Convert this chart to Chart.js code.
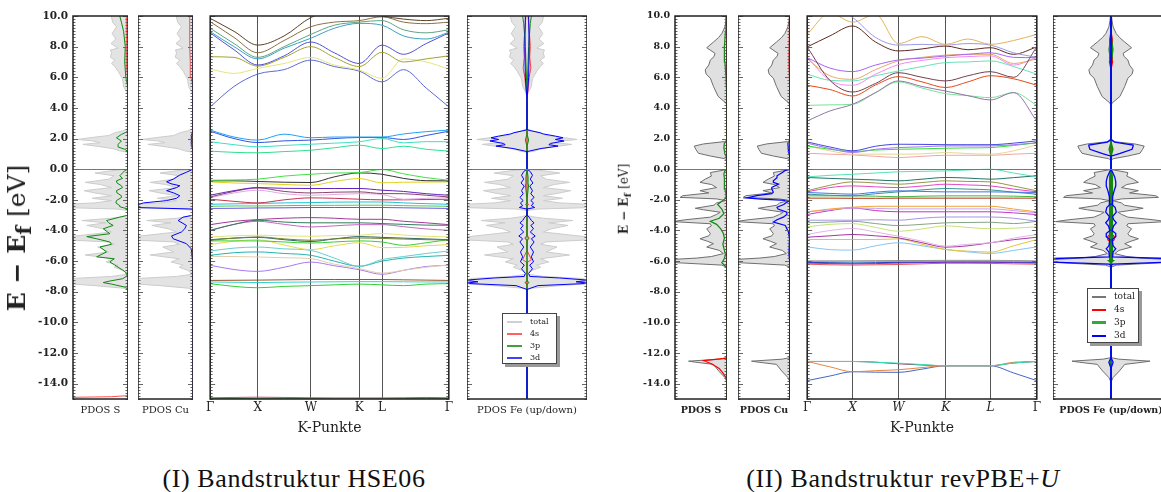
<!DOCTYPE html>
<html>
<head>
<meta charset="utf-8">
<script src="https://cdn.jsdelivr.net/npm/chart.js@4.4.1/dist/chart.umd.min.js"></script>
<style>
  body { margin: 0; width: 1161px; height: 492px; overflow: hidden; background: #fff; position: relative; font-family: "DejaVu Serif", serif; color: #222; }
  canvas { position: absolute; top: 0; }
  .ytitle { position: absolute; white-space: nowrap; transform: translate(-50%, -50%) rotate(-90deg); font-weight: bold; }
  .ytitle span { font-weight: normal; }
  .caption { position: absolute; white-space: nowrap; transform: translate(-50%, -50%); font-family: "Liberation Serif", serif; font-size: 26px; letter-spacing: 0.6px; color: #111; }
  .legend { position: absolute; background: #fff; border: 1px solid #444; box-shadow: 3px 3px 0 #999; font-size: 8px; }
  .legend div { position: relative; height: 12px; line-height: 12px; }
  .legend i { position: absolute; display: block; }
</style>
</head>
<body>
<canvas id="hseS" width="128" height="440" style="left:0px"></canvas>
<canvas id="hseCu" width="55" height="440" style="left:138px"></canvas>
<canvas id="hseBand" width="251" height="440" style="left:204px"></canvas>
<canvas id="hseFe" width="120" height="440" style="left:467px"></canvas>
<canvas id="pbeS" width="127" height="440" style="left:600px"></canvas>
<canvas id="pbeCu" width="52" height="440" style="left:738px"></canvas>
<canvas id="pbeBand" width="242" height="440" style="left:801px"></canvas>
<canvas id="pbeFe" width="116" height="440" style="left:1053px"></canvas>

<div class="ytitle" style="left:19px; top:238px; font-size:25px;">E − E<sub>f</sub> <span>[eV]</span></div>
<div class="ytitle" style="left:625px; top:199px; font-size:12px;">E − E<sub>f</sub> <span>[eV]</span></div>

<div class="legend" style="left:502px; top:313px; width:53px; height:49px;">
  <div style="margin-top:2px"><i style="left:4px; top:5px; width:15px; height:1.5px; background:#d0d0d0"></i><span style="margin-left:27px">total</span></div>
  <div><i style="left:4px; top:5px; width:15px; height:1.5px; background:#ff6060"></i><span style="margin-left:27px">4s</span></div>
  <div><i style="left:4px; top:5px; width:15px; height:1.5px; background:#40a040"></i><span style="margin-left:27px">3p</span></div>
  <div><i style="left:4px; top:5px; width:15px; height:1.5px; background:#4040ff"></i><span style="margin-left:27px">3d</span></div>
</div>
<div class="legend" style="left:1087px; top:288px; width:50px; height:53px; font-size:9px;">
  <div style="margin-top:1px; height:13px"><i style="left:4px; top:6px; width:14px; height:1.5px; background:#777"></i><span style="margin-left:26px">total</span></div>
  <div style="height:13px"><i style="left:4px; top:6px; width:14px; height:1.5px; background:#f00"></i><span style="margin-left:26px">4s</span></div>
  <div style="height:13px"><i style="left:4px; top:5px; width:14px; height:3px; background:#3a3"></i><span style="margin-left:26px">3p</span></div>
  <div style="height:13px"><i style="left:4px; top:6px; width:14px; height:1.5px; background:#00f"></i><span style="margin-left:26px">3d</span></div>
</div>

<div class="caption" style="left:294px; top:479px;">(I)  Bandstruktur HSE06</div>
<div class="caption" style="left:903px; top:479px;">(II)  Bandstruktur revPBE+<i>U</i></div>

<script>
// energy axis ticks and k-path
const yTicks = [-14, -12, -10, -8, -6, -4, -2, 0, 2, 4, 6, 8, 10];
const kLabels = ["Γ", "X", "W", "K", "L", "Γ"];
const kTicksHSE = [0, 0.199, 0.422, 0.625, 0.72, 1];
const kGridHSE = [0, 0.1, 0.199, 0.31, 0.422, 0.52, 0.625, 0.72, 0.81, 0.905, 1];
const kTicksPBE = [0, 0.198, 0.397, 0.603, 0.798, 1];
const kGridPBE = [0, 0.099, 0.198, 0.298, 0.397, 0.5, 0.603, 0.7, 0.798, 0.899, 1];

// HSE06 bands, energies at kGridHSE
const bandsHSE = [
  [9.85, 9.0, 8.1, 8.7, 9.9, 10.3, 10.3, 10.0, 9.8, 9.7, 9.85],
  [9.63, 8.6, 7.6, 8.4, 9.3, 9.6, 9.7, 9.95, 9.6, 9.5, 9.6],
  [9.2, 8.2, 7.3, 8.0, 8.8, 9.4, 9.6, 9.7, 9.1, 8.9, 9.1],
  [8.98, 8.0, 7.2, 7.9, 8.55, 9.2, 9.52, 9.4, 8.7, 8.5, 8.93],
  [8.9, 7.8, 6.8, 7.4, 8.3, 7.6, 6.9, 8.1, 7.5, 8.2, 8.9],
  [7.34, 7.3, 6.73, 7.3, 8.0, 7.3, 6.7, 7.63, 7.0, 7.2, 7.4],
  [6.54, 6.25, 6.58, 6.9, 7.3, 6.8, 6.47, 5.93, 7.2, 7.0, 6.54],
  [4.07, 5.4, 6.21, 6.5, 7.12, 6.7, 6.4, 5.7, 6.5, 5.3, 4.07],
  [2.55, 2.1, 1.9, 2.29, 2.05, 2.1, 2.1, 2.1, 2.3, 2.45, 2.55],
  [2.48, 2.0, 1.74, 1.85, 1.9, 2.0, 2.07, 2.07, 1.94, 2.2, 2.48],
  [1.79, 1.6, 1.46, 1.55, 1.63, 1.7, 1.79, 2.0, 1.72, 1.8, 1.79],
  [1.18, 1.1, 1.07, 1.15, 1.24, 1.4, 1.57, 1.35, 1.5, 1.3, 1.18],
  [-0.72, -0.7, -0.65, -0.45, -0.33, -0.25, -0.22, -0.02, -0.3, -0.55, -0.72],
  [-0.76, -0.76, -0.8, -0.85, -0.87, -0.5, -0.24, -0.33, -0.6, -0.75, -0.76],
  [-0.83, -0.9, -0.94, -1.0, -1.05, -0.8, -0.61, -0.89, -0.85, -0.84, -0.83],
  [-1.7, -1.4, -1.2, -1.25, -1.26, -1.26, -1.26, -1.37, -1.45, -1.6, -1.7],
  [-1.81, -1.45, -1.22, -1.45, -1.55, -1.5, -1.48, -1.59, -1.6, -1.7, -1.81],
  [-1.86, -1.55, -1.37, -1.6, -1.7, -1.65, -1.6, -1.65, -1.96, -1.9, -1.86],
  [-1.96, -2.1, -2.2, -2.0, -1.87, -1.9, -1.96, -2.0, -2.0, -1.98, -1.96],
  [-2.29, -2.26, -2.24, -2.2, -2.18, -2.15, -2.14, -2.14, -2.2, -2.25, -2.29],
  [-2.42, -2.4, -2.4, -2.38, -2.36, -2.36, -2.35, -2.35, -2.38, -2.4, -2.42],
  [-2.56, -2.55, -2.53, -2.52, -2.5, -2.5, -2.5, -2.5, -2.52, -2.54, -2.56],
  [-3.62, -3.4, -3.29, -3.2, -3.16, -3.2, -3.27, -3.27, -3.4, -3.5, -3.62],
  [-3.99, -3.6, -3.33, -3.45, -3.5, -3.5, -3.5, -3.55, -3.6, -3.65, -3.66],
  [-4.0, -3.6, -3.4, -3.6, -3.77, -3.7, -3.62, -3.62, -3.75, -3.9, -3.99],
  [-4.42, -4.35, -4.31, -4.35, -4.38, -4.33, -4.31, -4.2, -4.3, -4.38, -4.42],
  [-4.64, -4.5, -4.42, -4.55, -4.64, -4.55, -4.49, -4.52, -4.56, -4.6, -4.62],
  [-4.6, -4.5, -4.45, -4.6, -4.72, -4.55, -4.4, -4.45, -4.5, -4.55, -4.6],
  [-4.68, -4.68, -4.68, -4.75, -4.82, -4.75, -4.68, -4.75, -4.97, -4.8, -4.6],
  [-4.92, -4.7, -4.6, -4.95, -5.25, -5.0, -4.8, -5.12, -5.1, -5.0, -4.92],
  [-5.34, -5.15, -5.08, -5.2, -5.3, -5.8, -6.34, -5.9, -5.7, -5.5, -5.34],
  [-5.62, -5.45, -5.4, -5.5, -5.62, -6.0, -6.34, -6.0, -5.8, -5.7, -5.62],
  [-5.69, -5.7, -5.73, -5.78, -5.84, -6.2, -6.49, -6.78, -6.6, -6.4, -6.25],
  [-6.27, -6.55, -6.67, -6.4, -6.06, -6.3, -6.56, -6.86, -6.6, -6.35, -6.27],
  [-7.26, -7.25, -7.24, -7.22, -7.2, -7.2, -7.2, -7.2, -7.22, -7.24, -7.26],
  [-7.36, -7.38, -7.4, -7.38, -7.36, -7.35, -7.34, -7.34, -7.35, -7.36, -7.36],
  [-7.47, -7.65, -7.74, -7.65, -7.6, -7.55, -7.5, -7.55, -7.6, -7.5, -7.47],
  [-14.92, -14.9, -14.88, -14.9, -14.92, -14.93, -14.93, -14.93, -14.92, -14.9, -14.92],
  [-14.97, -14.97, -14.96, -14.96, -14.97, -14.98, -14.98, -14.98, -14.97, -14.96, -14.97]
];
const colorsHSE = [
  "#5c4326", "#8b7043", "#5fa384", "#3aa2c4", "#5052d4", "#a3a332", "#e6e67a", "#5b6bd9",
  "#1fa3f2", "#2f55e0", "#3fe0c2", "#2fe08f", "#45e045", "#333333", "#e3d21f", "#6422c2",
  "#86456a", "#e2a6e6", "#c23452", "#22c2d4", "#55c655", "#6a55e3", "#a8389a", "#2e7d5a",
  "#c466c4", "#e3e37a", "#758535", "#2f6363", "#33d133", "#e8d94a", "#6ccccc", "#25b3b3",
  "#e3cdb0", "#a878f2", "#93582a", "#35d4d4", "#30d030", "#c0508a", "#3a8a3a"
];

// revPBE+U bands, energies at kGridPBE
const bandsPBE = [
  [8.8, 10.2, 9.6, 10.1, 8.2, 8.65, 8.15, 8.5, 8.15, 8.4, 8.8],
  [10.5, 10.6, 9.9, 8.6, 8.1, 8.15, 8.1, 8.2, 8.1, 7.6, 7.3],
  [7.98, 8.7, 9.35, 8.3, 7.72, 7.85, 8.04, 7.8, 7.93, 7.5, 7.98],
  [7.98, 5.8, 5.04, 5.6, 6.3, 6.0, 5.76, 6.1, 6.37, 6.0, 7.98],
  [5.48, 5.2, 4.78, 5.5, 6.04, 5.7, 5.33, 5.7, 6.1, 5.9, 5.48],
  [7.28, 6.6, 6.37, 6.8, 7.13, 7.25, 7.39, 7.5, 7.6, 7.3, 7.28],
  [7.2, 6.1, 5.87, 6.5, 7.07, 7.3, 7.45, 7.5, 7.5, 6.9, 7.2],
  [7.3, 5.8, 5.48, 6.2, 6.83, 7.1, 7.28, 7.35, 7.4, 6.8, 7.3],
  [6.2, 5.8, 5.76, 6.1, 6.41, 6.7, 6.96, 7.0, 7.07, 6.7, 6.2],
  [3.15, 3.8, 4.24, 5.0, 5.76, 5.4, 5.1, 4.8, 4.52, 5.0, 3.15],
  [4.17, 4.2, 4.24, 5.0, 5.7, 5.3, 4.93, 4.8, 4.67, 5.0, 4.17],
  [1.78, 1.45, 1.2, 1.5, 1.63, 1.62, 1.6, 1.6, 1.6, 1.7, 1.85],
  [1.7, 1.35, 1.09, 1.3, 1.41, 1.46, 1.52, 1.52, 1.52, 1.6, 1.72],
  [1.52, 1.3, 1.15, 1.25, 1.3, 1.33, 1.37, 1.39, 1.41, 1.55, 1.72],
  [1.52, 1.2, 0.98, 0.98, 0.98, 1.0, 1.09, 1.02, 0.98, 1.2, 1.6],
  [1.04, 0.98, 0.93, 0.84, 0.76, 0.84, 0.91, 0.91, 0.91, 0.98, 1.04],
  [-0.5, -0.4, -0.33, -0.25, -0.17, -0.14, -0.11, -0.05, 0.0, -0.25, -0.5],
  [-0.54, -0.6, -0.65, -0.7, -0.76, -0.65, -0.54, -0.58, -0.65, -0.55, -0.43],
  [-1.41, -1.05, -0.83, -0.9, -0.98, -0.87, -0.76, -0.8, -0.83, -1.1, -1.41],
  [-1.48, -1.2, -1.09, -1.15, -1.2, -1.1, -0.98, -1.03, -1.09, -1.3, -1.48],
  [-1.52, -1.58, -1.63, -1.5, -1.41, -1.45, -1.48, -1.48, -1.48, -1.5, -1.52],
  [-1.63, -1.7, -1.74, -1.6, -1.48, -1.35, -1.26, -1.3, -1.35, -1.5, -1.63],
  [-1.74, -1.74, -1.74, -1.76, -1.8, -1.76, -1.74, -1.74, -1.74, -1.76, -1.8],
  [-1.89, -1.89, -1.9, -1.9, -1.89, -1.89, -1.89, -1.89, -1.89, -1.89, -1.89],
  [-2.78, -2.6, -2.48, -2.42, -2.42, -2.42, -2.42, -2.42, -2.42, -2.6, -2.78],
  [-2.78, -2.65, -2.53, -2.56, -2.59, -2.59, -2.59, -2.59, -2.59, -2.7, -2.85],
  [-2.96, -2.7, -2.53, -2.7, -2.78, -2.78, -2.78, -2.78, -2.78, -2.85, -2.96],
  [-3.33, -3.33, -3.33, -3.3, -3.33, -3.2, -3.12, -3.12, -3.12, -3.2, -3.4],
  [-3.5, -3.45, -3.4, -3.55, -3.68, -3.6, -3.5, -3.48, -3.46, -3.55, -3.4],
  [-3.76, -3.6, -3.55, -3.8, -4.05, -3.9, -3.7, -3.8, -3.89, -3.85, -3.76],
  [-4.26, -4.0, -3.87, -4.1, -4.37, -4.7, -5.02, -4.9, -4.8, -4.5, -4.26],
  [-4.44, -4.35, -4.26, -4.35, -4.48, -4.8, -5.09, -5.0, -4.8, -4.6, -4.44],
  [-4.59, -4.59, -4.59, -4.59, -4.55, -4.9, -5.24, -5.35, -5.41, -5.0, -4.59],
  [-5.07, -5.25, -5.28, -5.0, -4.8, -5.0, -5.24, -5.4, -5.5, -5.3, -5.07],
  [-5.98, -5.98, -5.98, -5.97, -5.96, -5.96, -5.95, -5.95, -5.95, -5.96, -5.98],
  [-6.03, -6.04, -6.05, -6.04, -6.03, -6.02, -6.0, -6.0, -6.0, -6.01, -6.03],
  [-6.08, -6.1, -6.12, -6.1, -6.08, -6.06, -6.04, -6.04, -6.04, -6.06, -6.08],
  [-6.13, -6.16, -6.18, -6.16, -6.13, -6.1, -6.08, -6.08, -6.08, -6.1, -6.13],
  [-6.2, -6.24, -6.26, -6.24, -6.22, -6.18, -6.14, -6.14, -6.15, -6.18, -6.2],
  [-12.55, -12.55, -12.55, -12.6, -12.66, -12.75, -12.83, -12.83, -12.83, -12.65, -12.55],
  [-12.55, -12.9, -13.22, -13.15, -13.09, -12.95, -12.83, -12.83, -12.83, -12.6, -12.55],
  [-12.55, -12.55, -12.55, -12.6, -12.7, -12.78, -12.83, -12.83, -12.83, -12.65, -12.55],
  [-13.8, -13.5, -13.22, -13.25, -13.26, -13.05, -12.83, -12.83, -12.83, -13.3, -13.8]
];
const colorsPBE = [
  "#e3b35a", "#9a9ae6", "#5e2a22", "#744052", "#e24a18", "#a466f2", "#e5a868", "#f28af2",
  "#66e3b5", "#9575a6", "#77e396", "#4545e3", "#a575f2", "#33e033", "#e6d595", "#f2a5a5",
  "#55e3b5", "#237566", "#969645", "#e545c5", "#4575e3", "#359595", "#45b545", "#b53515",
  "#f2a535", "#c5a5f2", "#c535c5", "#a595e3", "#85a585", "#c5e375", "#e3b5e3", "#a535a5",
  "#e3c535", "#85c5f2", "#959595", "#35c5c5", "#2525c5", "#9535c5", "#f25555", "#35e3b5",
  "#e58545", "#853565", "#4565c5"
];

// PDOS, [energy, DOS] pairs (HSE06)
const hseTotal = [[-15, 0], [-7.9, 0], [-7.78, 0.5], [-7.6, 6], [-7.45, 12], [-7.3, 12], [-7.13, 10], [-7.0, 3], [-6.85, 0], [-6.6, 1.0], [-6.4, 2.5], [-6.26, 1.8], [-6.05, 4.0], [-5.85, 2.5], [-5.6, 7.8], [-5.4, 3.5], [-5.08, 5.5], [-4.9, 2.5], [-4.75, 3.5], [-4.6, 12], [-4.45, 12], [-4.3, 8], [-4.1, 3.0], [-3.89, 4.5], [-3.67, 7.5], [-3.5, 4.0], [-3.35, 8.4], [-3.2, 3.0], [-3.1, 1.0], [-3.0, 0], [-2.7, 0], [-2.6, 2], [-2.5, 12], [-2.3, 12], [-2.2, 6], [-2.05, 3.0], [-1.9, 6.5], [-1.73, 3.0], [-1.55, 6], [-1.4, 8.0], [-1.2, 3.0], [-1.0, 5], [-0.86, 7.8], [-0.65, 3.5], [-0.43, 2.5], [-0.25, 6], [-0.1, 3.0], [0, 0], [1.1, 0], [1.2, 1.5], [1.34, 2.7], [1.5, 5.7], [1.62, 8.2], [1.73, 5.1], [1.84, 6.3], [1.94, 9.2], [2.05, 7.0], [2.2, 3.5], [2.38, 2.4], [2.5, 1.0], [2.65, 0], [4.8, 0], [5.0, 0.2], [5.4, 0.8], [5.9, 1.0], [6.4, 1.8], [6.7, 2.4], [6.9, 3.0], [7.13, 2.4], [7.3, 3.2], [7.6, 3.0], [7.78, 3.2], [7.9, 1.8], [8.2, 3.1], [8.5, 2.2], [8.85, 2.9], [9.3, 2.1], [9.6, 2.8], [9.93, 3.0], [10, 3.0]];
const hseS3p = [[-15, 0], [-7.85, 0], [-7.7, 0.5], [-7.5, 3.0], [-7.4, 4.5], [-7.3, 3.3], [-7.15, 1], [-7.0, 0.3], [-6.8, 0.2], [-6.6, 0.9], [-6.26, 2.4], [-6.05, 3.3], [-5.85, 2.5], [-5.72, 5.7], [-5.4, 3.9], [-5.08, 5.1], [-4.9, 3.0], [-4.75, 3.3], [-4.54, 5.7], [-4.4, 7.5], [-4.21, 3.3], [-3.89, 4.5], [-3.67, 2.7], [-3.5, 3.5], [-3.35, 3.9], [-3.13, 1.5], [-3.0, 0], [-2.6, 0], [-2.45, 1.5], [-2.38, 1.5], [-2.2, 2.2], [-2.05, 2.1], [-1.85, 1.2], [-1.73, 1.2], [-1.55, 2.0], [-1.4, 2.1], [-1.2, 1.0], [-1.08, 1.2], [-0.9, 2.0], [-0.76, 2.1], [-0.6, 1.0], [-0.43, 1.5], [-0.25, 1.0], [-0.1, 0.6], [0, 0], [1.15, 0], [1.3, 0.6], [1.45, 1.8], [1.62, 1.8], [1.84, 1.2], [2.05, 2.1], [2.27, 1.2], [2.42, 0.3], [2.55, 0], [5.3, 0], [6.0, 0.4], [7.0, 0.6], [8.0, 0.5], [9.0, 0.8], [9.6, 1.2], [10, 1.5]];
const hseS3s = [[-15, 12], [-14.9, 12], [-14.85, 3], [-14.78, 0], [5.5, 0], [6.5, 0.2], [8, 0.3], [9, 0.3], [10, 0.3]];
const hseCu3d = [[-15, 0], [-6.3, 0], [-5.2, 0.3], [-4.86, 1.2], [-4.54, 3.6], [-4.36, 3.9], [-4.1, 2.1], [-3.89, 1.5], [-3.67, 1.2], [-3.5, 2.0], [-3.35, 2.7], [-3.13, 1.8], [-3.0, 0], [-2.6, 0], [-2.5, 10.5], [-2.38, 10.5], [-2.2, 9], [-2.05, 4.8], [-1.9, 3.0], [-1.73, 2.4], [-1.55, 3.5], [-1.4, 4.8], [-1.2, 3.0], [-1.08, 2.4], [-0.95, 4.0], [-0.82, 4.8], [-0.65, 3.6], [-0.4, 2.5], [-0.2, 1.2], [0, 0], [1.2, 0], [1.6, 0.3], [2.2, 0.3], [2.5, 0], [10, 0]];
const hseCu4s = [[-15, 0], [-6, 0], [-5.5, 0.2], [-5, 0], [5.5, 0], [6, 0.4], [7, 0.5], [8, 0.6], [9, 0.6], [10, 0.6]];
const hseFe3d = [[-15, 0], [-7.85, 0], [-7.6, 2.0], [-7.45, 11.5], [-7.35, 9], [-7.25, 11.5], [-7.1, 6], [-7.0, 0.5], [-6.8, 0.3], [-6.5, 1.0], [-6.26, 0.5], [-6.05, 1.2], [-5.72, 0.8], [-5.4, 1.2], [-5.08, 0.6], [-4.75, 1.3], [-4.54, 0.8], [-4.36, 1.5], [-4.1, 0.6], [-3.89, 1.2], [-3.67, 0.7], [-3.5, 1.3], [-3.35, 0.8], [-3.13, 0.4], [-3.0, 0], [-2.6, 0], [-2.5, 1.4], [-2.38, 0.8], [-2.2, 1.2], [-2.05, 0.7], [-1.84, 1.3], [-1.6, 0.7], [-1.4, 1.0], [-1.1, 0.5], [-0.9, 1.1], [-0.65, 0.6], [-0.4, 1.0], [-0.15, 0.6], [0, 0], [1.15, 0], [1.34, 2.4], [1.51, 5.7], [1.6, 4.0], [1.68, 4.3], [1.84, 6.8], [1.94, 5.2], [2.05, 6.6], [2.16, 5.2], [2.3, 3.0], [2.38, 2.4], [2.55, 0.2], [2.65, 0], [4.5, 0], [6, 0.3], [8, 0.4], [10, 0.3]];
const hseFe4s = [[-15, 0], [-6.1, 0], [-5.9, 0.8], [-5.6, 0.4], [-5.3, 0], [-4.7, 0], [-4.5, 0.4], [-4.3, 0], [-2.4, 0], [-2.3, 0.3], [-2.2, 0], [4.5, 0], [6, 0.4], [6.6, 0.7], [7.3, 0.5], [8, 0.6], [8.6, 0.5], [10, 0.2]];
const hseFe3p = [[-15, 0], [-7.5, 0], [-7.4, 0.4], [-7.3, 0], [-4.6, 0], [-4.5, 0.3], [-4.4, 0], [-2, 0], [-1, 0.3], [-0.5, 0.2], [0, 0], [1.5, 0], [1.9, 0.3], [2.3, 0], [5, 0], [8, 0.3], [9.5, 0.6], [10, 0.8]];

// PDOS, [energy, DOS] pairs (revPBE+U)
const pbeTotal = [[-15, 0], [-13.9, 0], [-13.6, 0.4], [-13.17, 1.6], [-12.74, 2.6], [-12.6, 6.0], [-12.53, 7.4], [-12.4, 1.5], [-12.3, 0], [-6.4, 0], [-6.26, 1.0], [-6.08, 11], [-5.9, 11], [-5.8, 5.8], [-5.7, 3.0], [-5.51, 0.7], [-5.3, 1.5], [-5.08, 3.9], [-4.86, 2.6], [-4.7, 3.8], [-4.54, 5.2], [-4.35, 3.5], [-4.21, 3.2], [-3.89, 3.9], [-3.7, 3.0], [-3.56, 3.2], [-3.42, 10.5], [-3.3, 8], [-3.13, 3.2], [-2.95, 2.0], [-2.81, 1.3], [-2.65, 4.5], [-2.55, 6.1], [-2.35, 2.5], [-2.2, 2.0], [-2.05, 0.3], [-1.94, 2], [-1.84, 9.0], [-1.73, 8.5], [-1.55, 3.5], [-1.4, 5.2], [-1.2, 2.0], [-1.0, 3.0], [-0.86, 5.2], [-0.65, 4.2], [-0.45, 3.0], [-0.22, 3.2], [-0.05, 0.5], [0, 0], [0.6, 0], [0.69, 0.5], [0.86, 3.2], [1.04, 5.5], [1.3, 6.0], [1.51, 6.3], [1.65, 4.5], [1.8, 0.5], [1.9, 0], [4.1, 0], [4.32, 0.2], [4.75, 1.7], [5.4, 2.6], [5.94, 3.2], [6.2, 4.0], [6.48, 4.2], [6.8, 3.5], [7.13, 3.2], [7.35, 2.5], [7.56, 2.3], [7.93, 3.9], [8.3, 2.6], [8.6, 1.6], [8.85, 1.0], [9.29, 0.4], [9.7, 0.2], [10, 0.1]];
const pbeS3p = [[-15, 0], [-6.45, 0], [-6.3, 0.4], [-6.1, 1.0], [-5.9, 0.6], [-5.6, 0.3], [-5.3, 0.5], [-4.9, 0.8], [-4.5, 0.5], [-4.2, 0.7], [-3.9, 1.2], [-3.6, 2.0], [-3.4, 3.2], [-3.2, 1.5], [-2.9, 0.6], [-2.6, 1.0], [-2.3, 1.8], [-2.1, 1.0], [-1.9, 0.3], [-1.6, 0.2], [-1.3, 0.4], [-1.0, 0.5], [-0.6, 0.5], [-0.3, 0.6], [-0.1, 0.4], [0, 0], [0.7, 0], [1.0, 0.4], [1.4, 0.6], [1.7, 0.5], [1.85, 0], [4.3, 0], [6, 0.2], [7, 0.4], [8, 0.5], [9, 0.3], [10, 0.2]];
const pbeS3s = [[-15, 0], [-13.7, 0], [-13.3, 0.8], [-13.0, 1.5], [-12.7, 3.0], [-12.5, 4.5], [-12.33, 0], [10, 0]];
const pbeCu3d = [[-15, 0], [-6.3, 0], [-5.5, 0.2], [-4.54, 0.1], [-4.1, 0.3], [-3.67, 0.9], [-3.45, 3.2], [-3.3, 2.5], [-3.13, 1.3], [-2.95, 0.6], [-2.81, 0.6], [-2.6, 2.3], [-2.48, 2.5], [-2.3, 1.2], [-2.15, 0.6], [-2.05, 0], [-1.95, 5.5], [-1.88, 8.3], [-1.73, 6.4], [-1.6, 3.5], [-1.5, 3.2], [-1.3, 3.5], [-1.19, 3.5], [-0.97, 2.2], [-0.85, 3.2], [-0.76, 3.2], [-0.55, 2.5], [-0.43, 2.5], [-0.2, 1.4], [-0.1, 1.0], [0, 0], [0.7, 0], [1.2, 0.3], [1.7, 0.4], [1.85, 0], [10, 0]];
const pbeCu4s = [[-15, 0], [4.3, 0], [7, 0.2], [10, 0.1]];
const pbeFe3d = [[-15, 0], [-13.0, 0], [-12.6, 0.4], [-12.3, 0], [-6.3, 0], [-6.2, 0.3], [-6.06, 12], [-5.84, 12], [-5.73, 0.3], [-5.4, 0.4], [-5.2, 0.9], [-5.0, 0.4], [-4.6, 0.2], [-4.4, 0.9], [-4.2, 0.9], [-4.0, 0.2], [-3.7, 0.5], [-3.5, 1.0], [-3.3, 0.5], [-3.1, 0.3], [-2.8, 1.0], [-2.5, 0.8], [-2.3, 0.2], [-1.8, 0.3], [-1.4, 0.6], [-1.1, 0.9], [-0.8, 0.9], [-0.5, 0.7], [-0.2, 0.3], [0, 0], [0.85, 0], [1.02, 1.6], [1.3, 4.0], [1.52, 4.2], [1.58, 4.2], [1.77, 0.7], [1.95, 0], [10, 0]];
const pbeFe4s = [[-15, 0], [-4.8, 0], [-4.6, 0.6], [-4.4, 0.6], [-4.2, 0], [6.5, 0], [7, 0.3], [8, 0.2], [8.5, 0.3], [9, 0], [10, 0]];
const pbeFe3p = [[-15, 0], [-6.1, 0], [-6.0, 0.3], [-3, 0.2], [-0.5, 0.2], [0, 0], [0.9, 0], [1.3, 0.3], [1.7, 0], [7, 0], [7.8, 0.3], [8.6, 0], [10, 0]];

Chart.defaults.font.family = "DejaVu Serif";
Chart.defaults.color = "#222";
Chart.defaults.animation = false;

// frame, inward minor ticks and the Fermi level line
const framePlugin = {
  id: "frame",
  afterDatasetsDraw(chart) {
    const { ctx, chartArea: a, scales } = chart;
    const y = scales.y;
    ctx.save();
    ctx.strokeStyle = "#777";
    ctx.lineWidth = 1;
    const y0 = Math.round(y.getPixelForValue(0)) + 0.5;
    ctx.beginPath();
    ctx.moveTo(a.left, y0);
    ctx.lineTo(a.right, y0);
    ctx.stroke();
    ctx.strokeStyle = "#666";
    for (let i = 0; i <= 125; i++) {
      const py = Math.round(y.getPixelForValue(-15 + i * 0.2)) + 0.5;
      const len = i % 10 === 5 ? 5 : 2.5;
      ctx.beginPath();
      ctx.moveTo(a.left, py);
      ctx.lineTo(a.left + len, py);
      ctx.moveTo(a.right, py);
      ctx.lineTo(a.right - len, py);
      ctx.stroke();
    }
    ctx.strokeStyle = "#222";
    ctx.lineWidth = 1.5;
    ctx.strokeRect(a.left, a.top, a.right - a.left, a.bottom - a.top);
    ctx.restore();
  }
};

function yScale(showLabels, tickFont, yWidth) {
  return {
    min: -15,
    max: 10,
    display: showLabels,
    afterBuildTicks: (scale) => { scale.ticks = yTicks.map((v) => ({ value: v })); },
    afterFit: (scale) => { scale.width = yWidth; },
    ticks: { callback: (v) => v.toFixed(1), font: tickFont, color: "#222", padding: 5 },
    grid: { display: false, drawTicks: false },
    border: { display: false }
  };
}

function dosSet(pairs, color, width, sign, order, fillColor) {
  return {
    data: pairs.map((p) => ({ x: sign * p[1], y: p[0] })),
    borderColor: color,
    borderWidth: width,
    backgroundColor: fillColor || "transparent",
    fill: fillColor ? "origin" : false,
    pointRadius: 0,
    tension: 0,
    order
  };
}

function pdosChart(id, datasets, xMin, xMax, reverse, label, labelFont, showY, yFont, yWidth) {
  new Chart(document.getElementById(id), {
    type: "line",
    data: { datasets },
    options: {
      responsive: false,
      indexAxis: "y",
      layout: { padding: { top: 16, left: 0, right: 0, bottom: 0 } },
      plugins: { legend: { display: false }, tooltip: { enabled: false } },
      scales: {
        x: {
          type: "linear",
          min: xMin,
          max: xMax,
          reverse,
          afterFit: (scale) => { scale.height = 41; },
          ticks: { display: false },
          grid: { display: false, drawTicks: false },
          border: { display: false },
          title: { display: true, text: label, font: labelFont, color: "#222", padding: { top: 0, bottom: 24 } }
        },
        y: Object.assign({ type: "linear" }, yScale(showY, yFont, yWidth))
      }
    },
    plugins: [framePlugin]
  });
}

function bandChart(id, bands, colors, kGrid, kTicks, italic) {
  const datasets = bands.map((b, i) => ({
    data: b.map((e, j) => ({ x: kGrid[j], y: e })),
    borderColor: colors[i],
    borderWidth: 1,
    pointRadius: 0,
    cubicInterpolationMode: "monotone",
    fill: false
  }));
  new Chart(document.getElementById(id), {
    type: "line",
    data: { datasets },
    options: {
      responsive: false,
      layout: { padding: { top: 16, left: 0, right: 0, bottom: 0 } },
      plugins: { legend: { display: false }, tooltip: { enabled: false } },
      scales: {
        x: {
          type: "linear",
          min: 0,
          max: 1,
          afterBuildTicks: (scale) => { scale.ticks = kTicks.map((v) => ({ value: v })); },
          afterFit: (scale) => { scale.height = 41; },
          ticks: {
            padding: 2,
            color: "#222",
            callback: (v, i) => kLabels[i],
            font: (ctx) => ({ size: 12, style: italic && ctx.index > 0 && ctx.index < 5 ? "italic" : "normal" })
          },
          grid: { color: "#555", lineWidth: 1, drawTicks: false },
          border: { display: false },
          title: { display: true, text: "K-Punkte", font: { size: 14 }, color: "#222", padding: { top: 0, bottom: 3 } }
        },
        y: { type: "linear", min: -15, max: 10, display: false }
      }
    },
    plugins: [framePlugin]
  });
}

// HSE06 figure
const hseGrey = "#e3e3e3", hseGreyLine = "#cccccc";
const hseLabel = { size: 10 };
const hseTick = { size: 10.5, weight: "bold" };
pdosChart("hseS", [
  dosSet(hseTotal, hseGreyLine, 1, 1, 5, hseGrey),
  dosSet(hseS3s, "#ff5050", 1, 1, 3),
  dosSet(hseS3p, "#108a10", 1, 1, 2)
], 0, 10, true, "PDOS S", hseLabel, true, hseTick, 73);
pdosChart("hseCu", [
  dosSet(hseTotal, hseGreyLine, 1, 1, 5, hseGrey),
  dosSet(hseCu4s, "#ff5050", 1, 1, 3),
  dosSet(hseCu3d, "#0000ff", 1, 1, 1)
], 0, 10, true, "PDOS Cu", hseLabel, false, hseTick, 0);
bandChart("hseBand", bandsHSE, colorsHSE, kGridHSE, kTicksHSE, false);
pdosChart("hseFe", [
  dosSet(hseTotal, hseGreyLine, 1, -1, 6, hseGrey),
  dosSet(hseTotal, hseGreyLine, 1, 1, 5, hseGrey),
  dosSet(hseFe4s, "#ff4040", 1, -1, 3),
  dosSet(hseFe4s, "#ff4040", 1, 1, 3),
  dosSet(hseFe3p, "#108a10", 1, -1, 2),
  dosSet(hseFe3p, "#108a10", 1, 1, 2),
  dosSet(hseFe3d, "#0000ff", 1, -1, 1),
  dosSet(hseFe3d, "#0000ff", 1, 1, 1)
], -11, 11, false, "PDOS Fe (up/down)", hseLabel, false, hseTick, 0);

// revPBE+U figure
const pbeGrey = "#e0e0e0", pbeGreyLine = "#6e6e6e";
const pbeLabel = { size: 9.5, weight: "bold" };
const pbeTick = { size: 9.5, weight: "bold" };
pdosChart("pbeS", [
  dosSet(pbeTotal, pbeGreyLine, 1, 1, 5, pbeGrey),
  dosSet(pbeS3s, "#ff0000", 1.2, 1, 3),
  dosSet(pbeS3p, "#108a10", 1.2, 1, 2)
], 0, 10, true, "PDOS S", pbeLabel, true, pbeTick, 75);
pdosChart("pbeCu", [
  dosSet(pbeTotal, pbeGreyLine, 1, 1, 5, pbeGrey),
  dosSet(pbeCu4s, "#ff0000", 1, 1, 3),
  dosSet(pbeCu3d, "#0000ff", 1.2, 1, 1)
], 0, 10, true, "PDOS Cu", pbeLabel, false, pbeTick, 0);
bandChart("pbeBand", bandsPBE, colorsPBE, kGridPBE, kTicksPBE, true);
pdosChart("pbeFe", [
  dosSet(pbeTotal, pbeGreyLine, 1, -1, 6, pbeGrey),
  dosSet(pbeTotal, pbeGreyLine, 1, 1, 5, pbeGrey),
  dosSet(pbeFe4s, "#ff0000", 1.2, -1, 3),
  dosSet(pbeFe4s, "#ff0000", 1.2, 1, 3),
  dosSet(pbeFe3p, "#108a10", 2, -1, 2),
  dosSet(pbeFe3p, "#108a10", 2, 1, 2),
  dosSet(pbeFe3d, "#0000ff", 1.3, -1, 1),
  dosSet(pbeFe3d, "#0000ff", 1.3, 1, 1)
], -11, 11, false, "PDOS Fe (up/down)", pbeLabel, false, pbeTick, 0);
</script>
</body>
</html>
